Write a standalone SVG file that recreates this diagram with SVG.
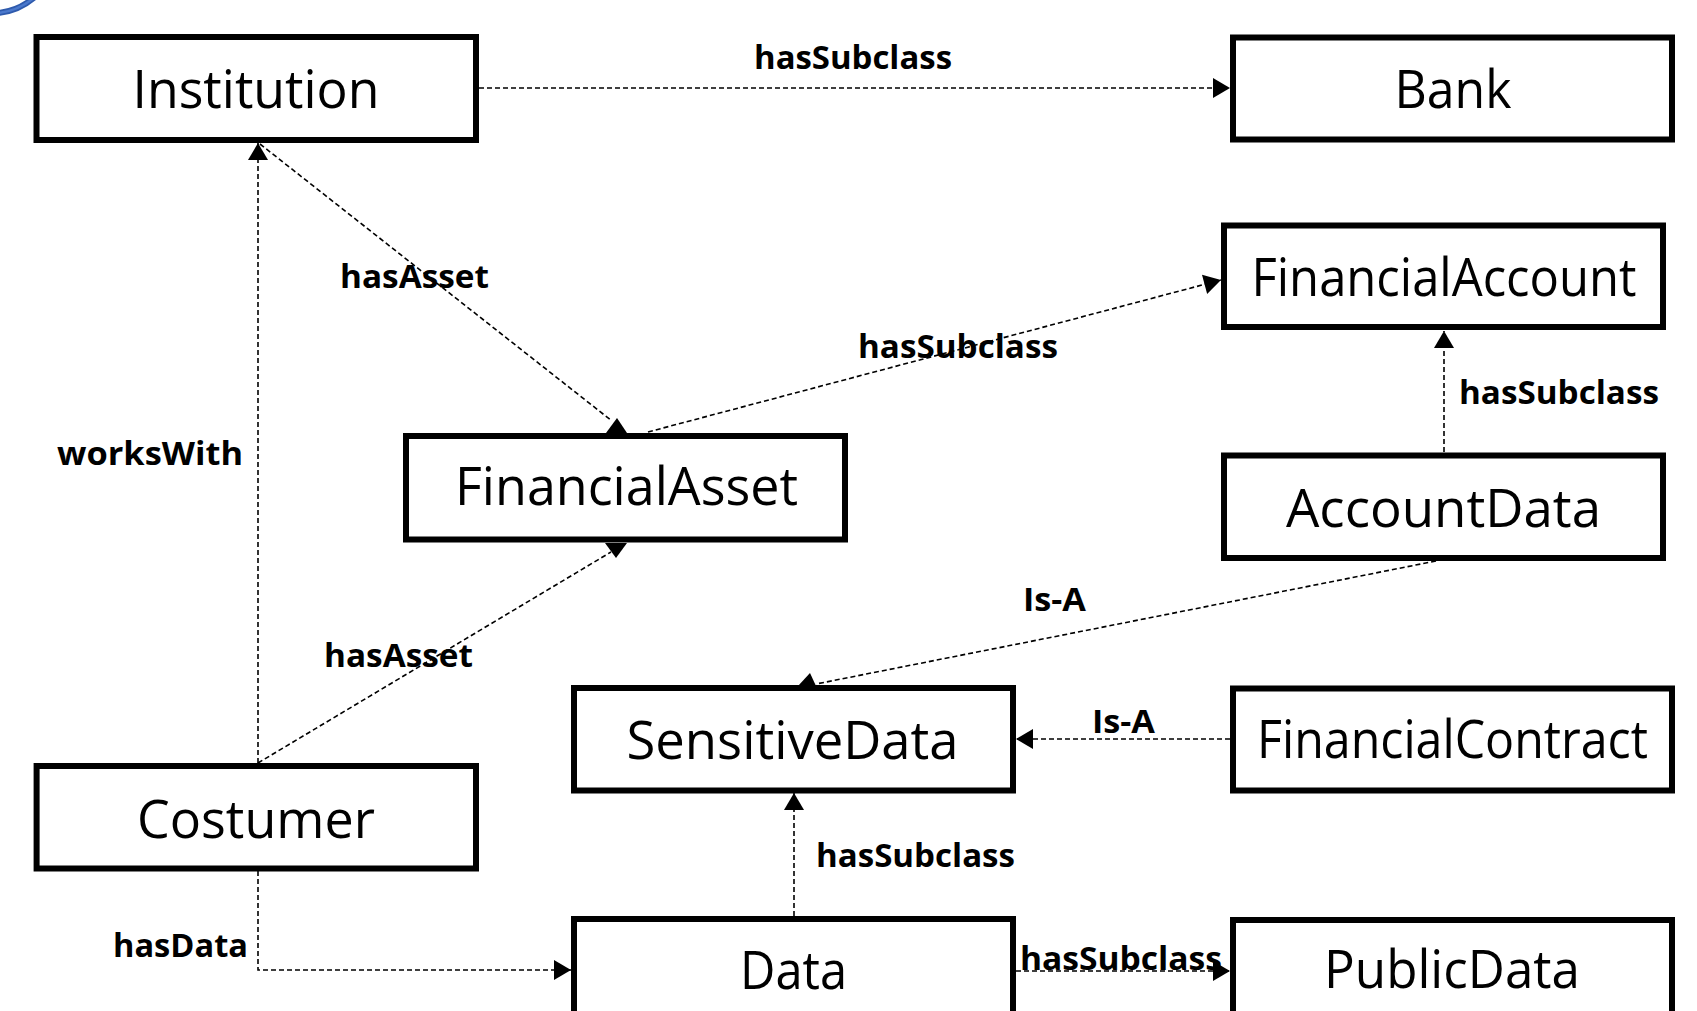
<svg xmlns="http://www.w3.org/2000/svg" width="1697" height="1011" viewBox="0 0 1697 1011">
  <style>
    .box { fill: #ffffff; stroke: #000000; stroke-width: 6; }
    .name { font-family: "Open Sans", "Noto Sans", "Liberation Sans", sans-serif; font-size: 53px; fill: #000000; text-anchor: middle; }
    .rel { font-family: "Open Sans", "Noto Sans", "Liberation Sans", sans-serif; font-size: 33px; font-weight: bold; fill: #000000; }
    .link { fill: none; stroke: #000000; stroke-width: 1.6; stroke-dasharray: 5 3; }
    .head { fill: #000000; stroke: none; }
  </style>
  <defs>
    <marker id="arrow" markerUnits="userSpaceOnUse" markerWidth="18" markerHeight="20" refX="17" refY="10" orient="auto" overflow="visible">
      <path d="M0,0 L17,10 L0,20 Z" fill="#000000"/>
    </marker>
  </defs>

  <rect width="1697" height="1011" fill="#ffffff"/>

  <!-- corner ornament -->
  <path d="M-4 13 Q 18 12 36 -4" fill="none" stroke="#2E5AAC" stroke-width="6"/>
  <path d="M-4 13 Q 18 12 36 -4" fill="none" stroke="#4A78CC" stroke-width="2.5"/>

  <!-- connectors -->
  <g id="connectors">
    <path class="link" d="M479 88 H1230" marker-end="url(#arrow)"/>
    <path class="link" d="M258 763 V143" marker-end="url(#arrow)"/>
    <path class="link" d="M260 144 L612 421"/>
    <polygon class="head" points="606,433 617,418 627,433"/>
    <path class="link" d="M648 432 L1221 280" marker-end="url(#arrow)"/>
    <path class="link" d="M1444 452 V331" marker-end="url(#arrow)"/>
    <path class="link" d="M1436 561 L816 684"/>
    <polygon class="head" points="798,686 810,673 816,686"/>
    <path class="link" d="M1230 739 H1016" marker-end="url(#arrow)"/>
    <path class="link" d="M794 916 V793" marker-end="url(#arrow)"/>
    <path class="link" d="M1016 971 H1230" marker-end="url(#arrow)"/>
    <path class="link" d="M258 763 L611 552"/>
    <polygon class="head" points="605,543 616,558 627,543"/>
    <path class="link" d="M258 871 V970 H571" marker-end="url(#arrow)"/>

    <text class="rel" x="754" y="69" textLength="198" lengthAdjust="spacingAndGlyphs">hasSubclass</text>
    <text class="rel" x="340" y="288" textLength="149" lengthAdjust="spacingAndGlyphs">hasAsset</text>
    <text class="rel" x="858" y="358" textLength="200" lengthAdjust="spacingAndGlyphs">hasSubclass</text>
    <text class="rel" x="57" y="465" textLength="186" lengthAdjust="spacingAndGlyphs">worksWith</text>
    <text class="rel" x="1459" y="404" textLength="200" lengthAdjust="spacingAndGlyphs">hasSubclass</text>
    <text class="rel" x="1023" y="611" textLength="63" lengthAdjust="spacingAndGlyphs">Is-A</text>
    <text class="rel" x="324" y="667" textLength="149" lengthAdjust="spacingAndGlyphs">hasAsset</text>
    <text class="rel" x="1092" y="733" textLength="63" lengthAdjust="spacingAndGlyphs">Is-A</text>
    <text class="rel" x="816" y="867" textLength="199" lengthAdjust="spacingAndGlyphs">hasSubclass</text>
    <text class="rel" x="113" y="957" textLength="135" lengthAdjust="spacingAndGlyphs">hasData</text>
    <text class="rel" x="1020" y="970" textLength="202" lengthAdjust="spacingAndGlyphs">hasSubclass</text>
  </g>

  <!-- nodes -->
  <g id="institution">
    <rect class="box" x="36.5" y="37" width="439.5" height="103"/>
    <text class="name" x="256" y="108" textLength="247" lengthAdjust="spacingAndGlyphs">Institution</text>
  </g>
  <g id="bank">
    <rect class="box" x="1233" y="37.5" width="439" height="102"/>
    <text class="name" x="1453" y="108" textLength="117" lengthAdjust="spacingAndGlyphs">Bank</text>
  </g>
  <g id="financial-account">
    <rect class="box" x="1224" y="225.5" width="439" height="101.5"/>
    <text class="name" x="1444" y="296" textLength="385" lengthAdjust="spacingAndGlyphs">FinancialAccount</text>
  </g>
  <g id="account-data">
    <rect class="box" x="1224" y="455.5" width="439" height="102.5"/>
    <text class="name" x="1443.5" y="527" textLength="315" lengthAdjust="spacingAndGlyphs">AccountData</text>
  </g>
  <g id="financial-asset">
    <rect class="box" x="406" y="436" width="439" height="103.5"/>
    <text class="name" x="626.5" y="505" textLength="343" lengthAdjust="spacingAndGlyphs">FinancialAsset</text>
  </g>
  <g id="sensitive-data">
    <rect class="box" x="574" y="688" width="439" height="102.5"/>
    <text class="name" x="792.5" y="759" textLength="332" lengthAdjust="spacingAndGlyphs">SensitiveData</text>
  </g>
  <g id="financial-contract">
    <rect class="box" x="1233" y="688.5" width="439" height="102"/>
    <text class="name" x="1452.5" y="758" textLength="391" lengthAdjust="spacingAndGlyphs">FinancialContract</text>
  </g>
  <g id="costumer">
    <rect class="box" x="36.6" y="766" width="439.4" height="102.5"/>
    <text class="name" x="256" y="838" textLength="238" lengthAdjust="spacingAndGlyphs">Costumer</text>
  </g>
  <g id="data">
    <rect class="box" x="574" y="919" width="439" height="103"/>
    <text class="name" x="793.5" y="989" textLength="107" lengthAdjust="spacingAndGlyphs">Data</text>
  </g>
  <g id="public-data">
    <rect class="box" x="1233" y="920" width="439" height="103"/>
    <text class="name" x="1452" y="988" textLength="256" lengthAdjust="spacingAndGlyphs">PublicData</text>
  </g>
</svg>
